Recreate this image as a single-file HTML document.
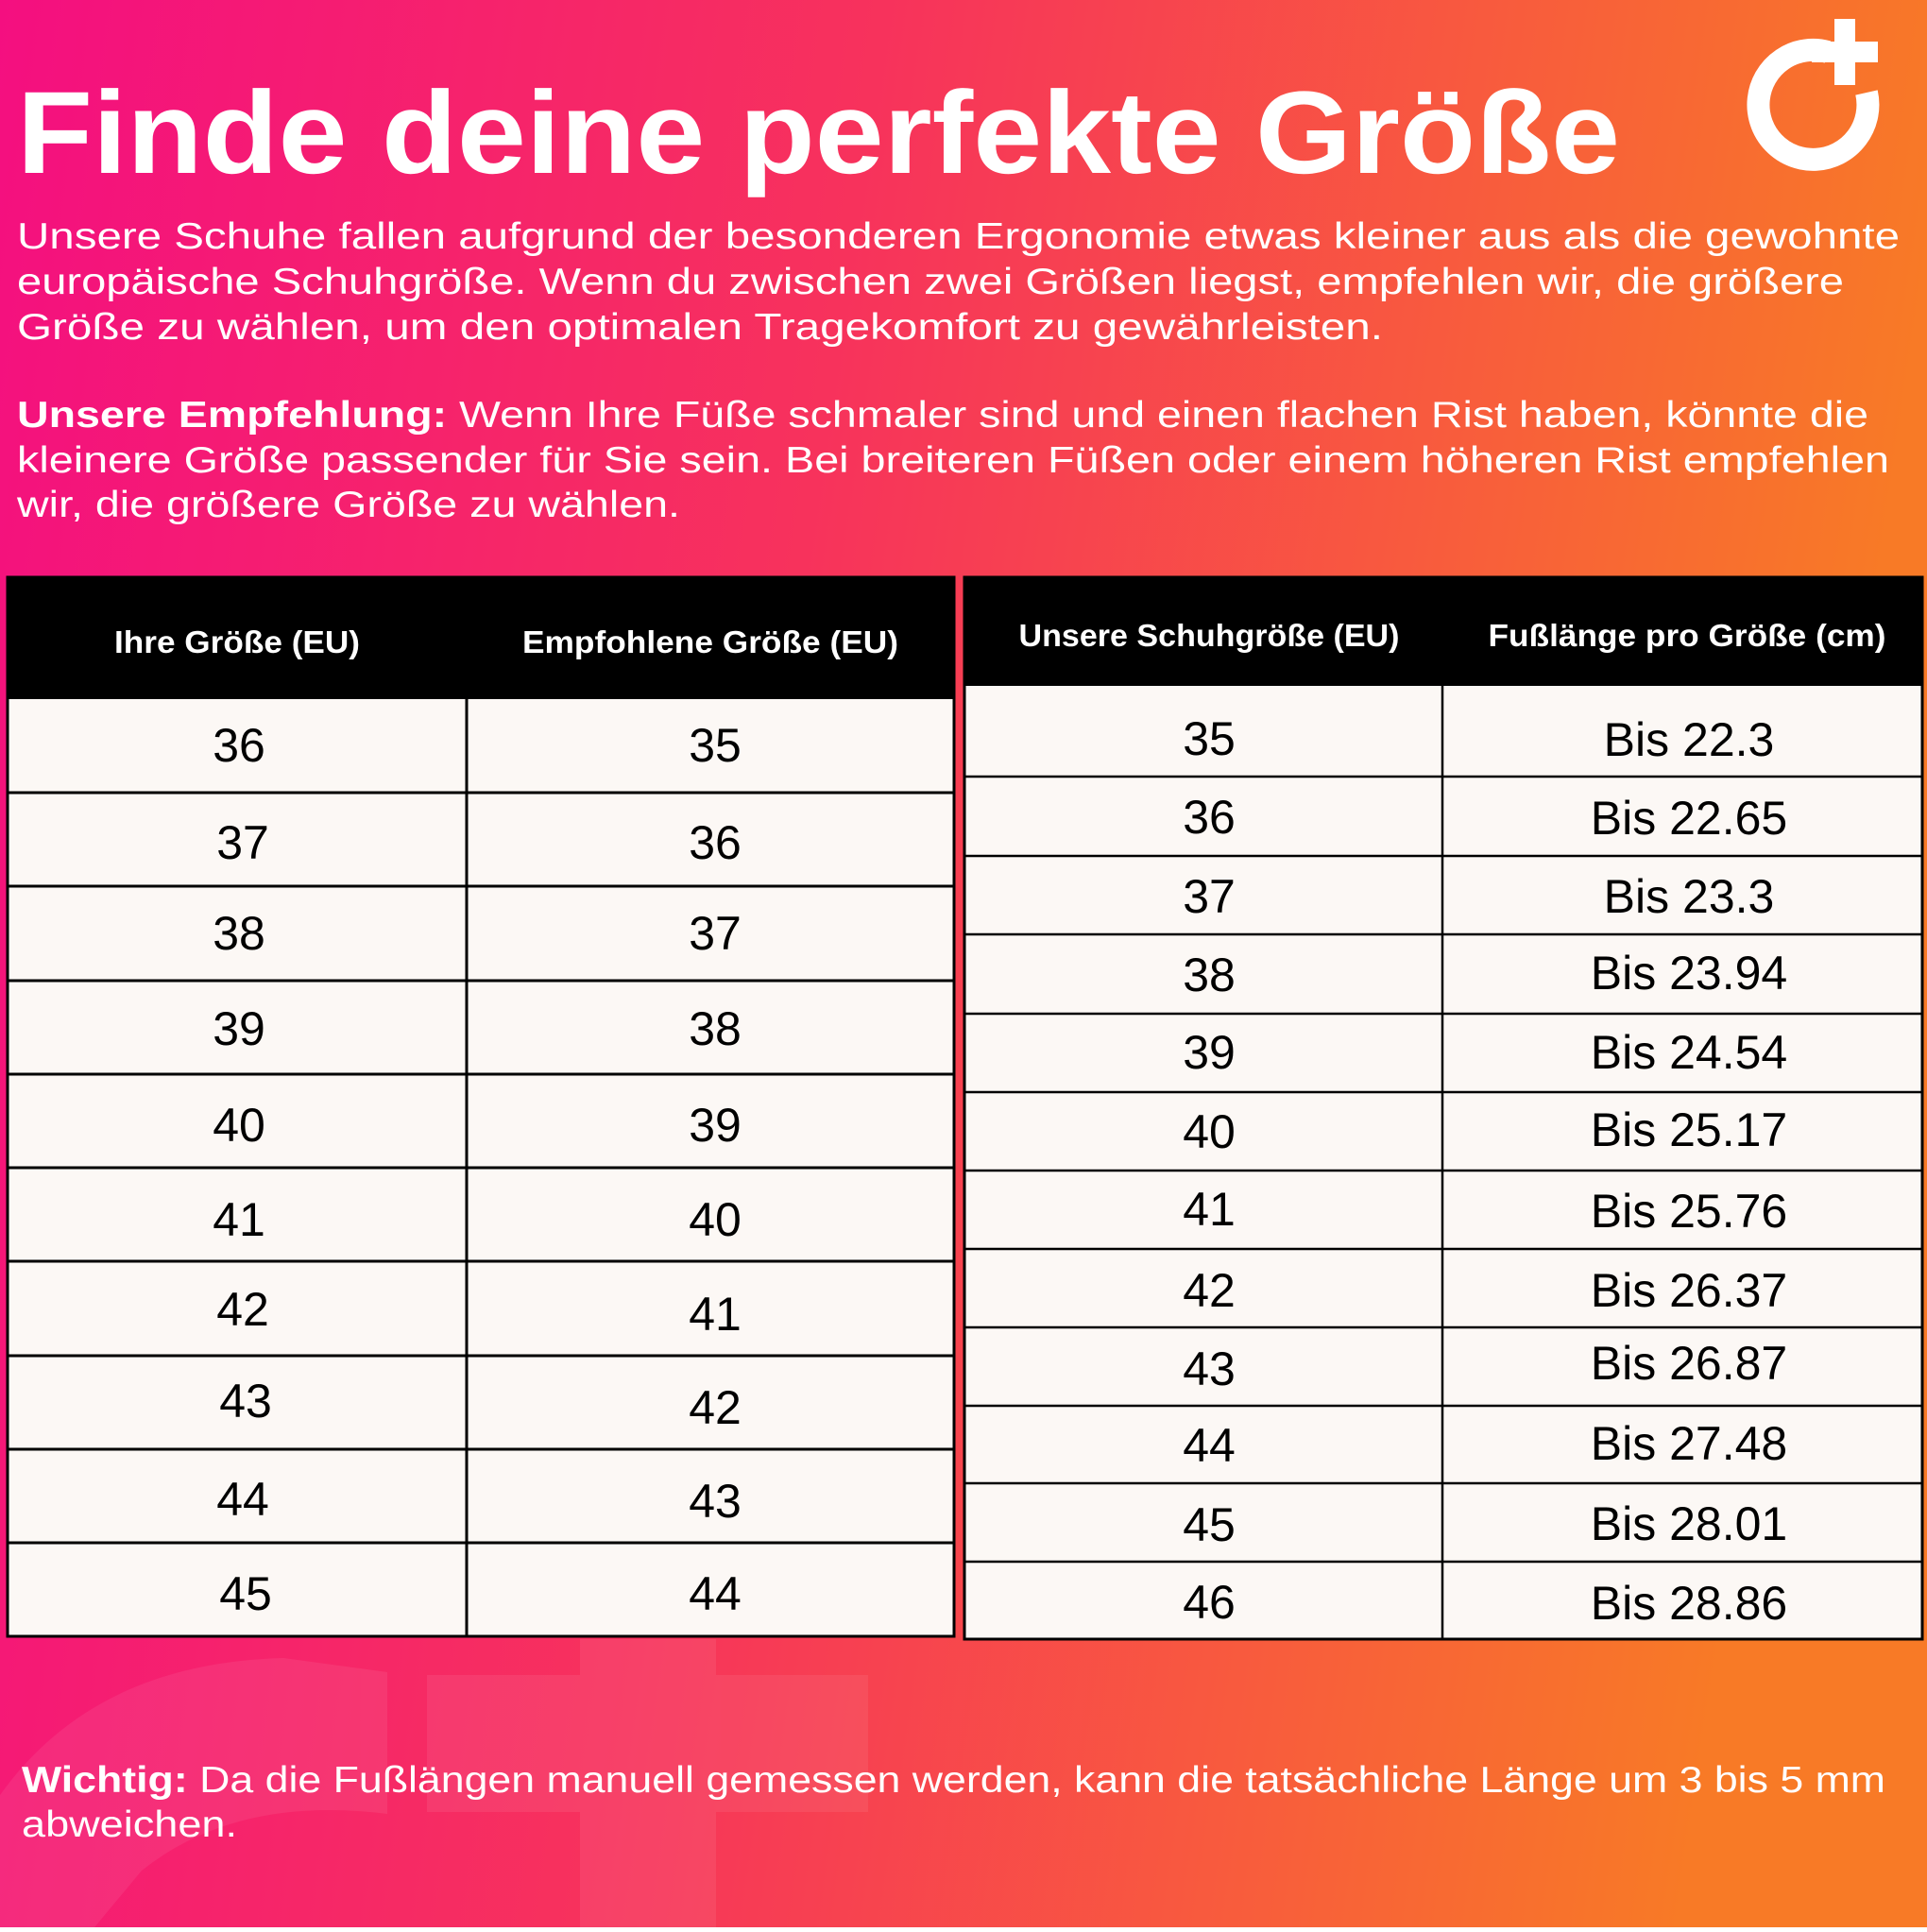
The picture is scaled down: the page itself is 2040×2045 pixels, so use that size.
<!DOCTYPE html>
<html><head><meta charset="utf-8"><style>
html,body{margin:0;padding:0}
body{width:2040px;height:2040px;overflow:hidden}
svg text{font-family:"Liberation Sans",sans-serif}
</style></head><body>
<svg width="2040" height="2040" viewBox="0 0 2040 2040" xmlns="http://www.w3.org/2000/svg">
<defs>
<linearGradient id="bg" x1="0" y1="0" x2="1" y2="0.15">
<stop offset="0" stop-color="#f40f80"/>
<stop offset="0.45" stop-color="#f7325c"/>
<stop offset="1" stop-color="#f87a26"/>
</linearGradient>
</defs>
<rect width="2040" height="2040" fill="url(#bg)"/>
<g fill="#ffffff" opacity="0.07">
<rect x="614" y="1735" width="144" height="305"/>
<rect x="452" y="1773" width="467" height="145"/>
<path d="M0 1900 Q100 1760 300 1755 L410 1770 L410 1920 Q250 1900 150 1980 L100 2040 L0 2040Z"/>
</g>
<g fill="none" stroke="#fff">
<path d="M1935 55 A58 58 0 1 0 1976 98" stroke-width="24"/>
</g>
<rect x="1942" y="20" width="22" height="70" fill="#fff"/>
<rect x="1918" y="44" width="70" height="22" fill="#fff"/>
<g fill="#fff">
<text x="18" y="183" font-size="124" font-weight="bold" textLength="1697" lengthAdjust="spacingAndGlyphs">Finde deine perfekte Größe</text>
<g font-size="39">
<text x="18" y="263" textLength="1993" lengthAdjust="spacingAndGlyphs">Unsere Schuhe fallen aufgrund der besonderen Ergonomie etwas kleiner aus als die gewohnte</text>
<text x="18" y="311" textLength="1934" lengthAdjust="spacingAndGlyphs">europäische Schuhgröße. Wenn du zwischen zwei Größen liegst, empfehlen wir, die größere</text>
<text x="18" y="359" textLength="1446" lengthAdjust="spacingAndGlyphs">Größe zu wählen, um den optimalen Tragekomfort zu gewährleisten.</text>
<text x="18" y="452" textLength="1960" lengthAdjust="spacingAndGlyphs"><tspan font-weight="bold">Unsere Empfehlung:</tspan> Wenn Ihre Füße schmaler sind und einen flachen Rist haben, könnte die</text>
<text x="18" y="500" textLength="1982" lengthAdjust="spacingAndGlyphs">kleinere Größe passender für Sie sein. Bei breiteren Füßen oder einem höheren Rist empfehlen</text>
<text x="18" y="547" textLength="702" lengthAdjust="spacingAndGlyphs">wir, die größere Größe zu wählen.</text>
<text x="23" y="1897" textLength="1973" lengthAdjust="spacingAndGlyphs"><tspan font-weight="bold">Wichtig:</tspan> Da die Fußlängen manuell gemessen werden, kann die tatsächliche Länge um 3 bis 5 mm</text>
<text x="23" y="1944" textLength="228" lengthAdjust="spacingAndGlyphs">abweichen.</text>
</g>
</g>
<rect x="8" y="611" width="1002" height="1121" fill="#fcf8f5" stroke="#000" stroke-width="3"/>
<rect x="8" y="611" width="1002" height="129" fill="#000"/>
<g stroke="#000" stroke-width="3">
<line x1="494" y1="740" x2="494" y2="1732"/>
<line x1="8" y1="839" x2="1010" y2="839"/><line x1="8" y1="938" x2="1010" y2="938"/>
<line x1="8" y1="1038" x2="1010" y2="1038"/><line x1="8" y1="1137" x2="1010" y2="1137"/>
<line x1="8" y1="1236" x2="1010" y2="1236"/><line x1="8" y1="1335" x2="1010" y2="1335"/>
<line x1="8" y1="1435" x2="1010" y2="1435"/><line x1="8" y1="1534" x2="1010" y2="1534"/>
<line x1="8" y1="1633" x2="1010" y2="1633"/>
</g>
<g fill="#fff" font-size="33" font-weight="bold" text-anchor="middle">
<text x="251" y="691" textLength="260" lengthAdjust="spacingAndGlyphs">Ihre Größe (EU)</text>
<text x="752" y="691" textLength="398" lengthAdjust="spacingAndGlyphs">Empfohlene Größe (EU)</text>
</g>
<g fill="#000" font-size="50" text-anchor="middle">
<text x="253" y="806">36</text><text x="757" y="806">35</text>
<text x="257" y="909">37</text><text x="757" y="909">36</text>
<text x="253" y="1005">38</text><text x="757" y="1005">37</text>
<text x="253" y="1106">39</text><text x="757" y="1106">38</text>
<text x="253" y="1208">40</text><text x="757" y="1208">39</text>
<text x="253" y="1308">41</text><text x="757" y="1308">40</text>
<text x="257" y="1403">42</text><text x="757" y="1408">41</text>
<text x="260" y="1500">43</text><text x="757" y="1507">42</text>
<text x="257" y="1604">44</text><text x="757" y="1606">43</text>
<text x="260" y="1704">45</text><text x="757" y="1704">44</text>
</g>
<rect x="1021" y="611" width="1014" height="1124" fill="#fcf8f5" stroke="#000" stroke-width="3"/>
<rect x="1021" y="611" width="1014" height="115" fill="#000"/>
<g stroke="#000" stroke-width="2.5">
<line x1="1527" y1="726" x2="1527" y2="1735"/>
<line x1="1021" y1="822" x2="2035" y2="822"/><line x1="1021" y1="906" x2="2035" y2="906"/>
<line x1="1021" y1="989" x2="2035" y2="989"/><line x1="1021" y1="1073" x2="2035" y2="1073"/>
<line x1="1021" y1="1156" x2="2035" y2="1156"/><line x1="1021" y1="1239" x2="2035" y2="1239"/>
<line x1="1021" y1="1322" x2="2035" y2="1322"/><line x1="1021" y1="1405" x2="2035" y2="1405"/>
<line x1="1021" y1="1488" x2="2035" y2="1488"/><line x1="1021" y1="1570" x2="2035" y2="1570"/>
<line x1="1021" y1="1653" x2="2035" y2="1653"/>
</g>
<g fill="#fff" font-size="33" font-weight="bold" text-anchor="middle">
<text x="1280" y="684" textLength="403" lengthAdjust="spacingAndGlyphs">Unsere Schuhgröße (EU)</text>
<text x="1786" y="684" textLength="421" lengthAdjust="spacingAndGlyphs">Fußlänge pro Größe (cm)</text>
</g>
<g fill="#000" font-size="50" text-anchor="middle">
<text x="1280" y="799">35</text><text x="1788" y="800">Bis 22.3</text>
<text x="1280" y="882">36</text><text x="1788" y="883">Bis 22.65</text>
<text x="1280" y="966">37</text><text x="1788" y="966">Bis 23.3</text>
<text x="1280" y="1049">38</text><text x="1788" y="1047">Bis 23.94</text>
<text x="1280" y="1131">39</text><text x="1788" y="1131">Bis 24.54</text>
<text x="1280" y="1215">40</text><text x="1788" y="1213">Bis 25.17</text>
<text x="1280" y="1297">41</text><text x="1788" y="1299">Bis 25.76</text>
<text x="1280" y="1383">42</text><text x="1788" y="1383">Bis 26.37</text>
<text x="1280" y="1466">43</text><text x="1788" y="1460">Bis 26.87</text>
<text x="1280" y="1547">44</text><text x="1788" y="1545">Bis 27.48</text>
<text x="1280" y="1631">45</text><text x="1788" y="1630">Bis 28.01</text>
<text x="1280" y="1713">46</text><text x="1788" y="1714">Bis 28.86</text>
</g>
</svg>
</body></html>
